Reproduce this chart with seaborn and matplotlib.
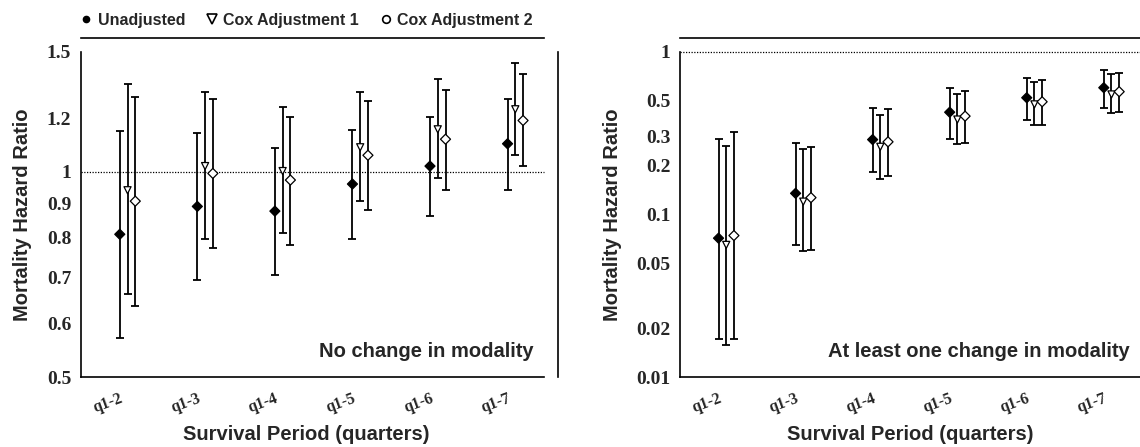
import pandas as pd
import numpy as np
import matplotlib
matplotlib.use("Agg")
import matplotlib.pyplot as plt
import seaborn as sns
from matplotlib.lines import Line2D
from matplotlib.ticker import FixedLocator, NullLocator

### Data ----------------------------------------------------------------------
periods = ["q1-2", "q1-3", "q1-4", "q1-5", "q1-6", "q1-7"]
series_names = ["Unadjusted", "Cox Adjustment 1", "Cox Adjustment 2"]

# Panel 1: no change in modality
nc_unadj_hr = [0.81, 0.89, 0.876, 0.96, 1.02, 1.10]
nc_unadj_lo = [0.57, 0.694, 0.706, 0.797, 0.862, 0.942]
nc_unadj_hi = [1.148, 1.142, 1.083, 1.152, 1.204, 1.278]
nc_cox1_hr = [0.94, 1.02, 1.003, 1.087, 1.155, 1.236]
nc_cox1_lo = [0.663, 0.798, 0.813, 0.905, 0.980, 1.060]
nc_cox1_hi = [1.345, 1.311, 1.245, 1.311, 1.370, 1.444]
nc_cox2_hr = [0.906, 0.995, 0.973, 1.058, 1.117, 1.19]
nc_cox2_lo = [0.636, 0.774, 0.780, 0.878, 0.942, 1.019]
nc_cox2_hi = [1.29, 1.278, 1.203, 1.272, 1.318, 1.391]

# Panel 2: at least one change in modality
ch_unadj_hr = [0.0715, 0.135, 0.289, 0.426, 0.523, 0.603]
ch_unadj_lo = [0.0171, 0.0648, 0.182, 0.292, 0.379, 0.454]
ch_unadj_hi = [0.292, 0.276, 0.454, 0.597, 0.691, 0.771]
ch_cox1_hr = [0.065, 0.120, 0.261, 0.384, 0.476, 0.548]
ch_cox1_lo = [0.0158, 0.0597, 0.165, 0.270, 0.356, 0.423]
ch_cox1_hi = [0.265, 0.253, 0.412, 0.553, 0.657, 0.736]
ch_cox2_hr = [0.0742, 0.127, 0.280, 0.403, 0.494, 0.570]
ch_cox2_lo = [0.0171, 0.0603, 0.172, 0.276, 0.356, 0.430]
ch_cox2_hi = [0.321, 0.261, 0.443, 0.574, 0.669, 0.742]

nc_ticks = [0.5, 0.6, 0.7, 0.8, 0.9, 1, 1.2, 1.5]
nc_ticklabels = ["0.5", "0.6", "0.7", "0.8", "0.9", "1", "1.2", "1.5"]
ch_ticks = [0.01, 0.02, 0.05, 0.1, 0.2, 0.3, 0.5, 0.7, 1]
ch_ticklabels = ["0.01", "0.02", "0.05", "0.1", "0.2", "0.3", "0.5", "", "1"]

### Build long table -----------------------------------------------------------
def make_panel(panel, hr_lists, lo_lists, hi_lists):
    rows = []
    for s, hr, lo, hi in zip(series_names, hr_lists, lo_lists, hi_lists):
        for i, p in enumerate(periods):
            rows.append([panel, s, p, i, hr[i], lo[i], hi[i]])
    return pd.DataFrame(rows, columns=["panel", "series", "period", "idx", "hr", "lo", "hi"])

df = pd.concat([
    make_panel("nc", [nc_unadj_hr, nc_cox1_hr, nc_cox2_hr],
               [nc_unadj_lo, nc_cox1_lo, nc_cox2_lo], [nc_unadj_hi, nc_cox1_hi, nc_cox2_hi]),
    make_panel("ch", [ch_unadj_hr, ch_cox1_hr, ch_cox2_hr],
               [ch_unadj_lo, ch_cox1_lo, ch_cox2_lo], [ch_unadj_hi, ch_cox1_hi, ch_cox2_hi]),
], ignore_index=True)

# dodge the three estimates within each period
offsets = {"Unadjusted": 0.0, "Cox Adjustment 1": 0.1, "Cox Adjustment 2": 0.2}
df["x"] = df["idx"] + df["series"].map(offsets)

### Plot -----------------------------------------------------------------------
sns.set_style("white")
plt.rcParams["font.family"] = ["Liberation Sans", "DejaVu Sans"]

fig = plt.figure(figsize=(11.4, 4.47), dpi=100)
ax1 = fig.add_axes([81 / 1140, 70 / 447, 463 / 1140, 325 / 447])
ax2 = fig.add_axes([680 / 1140, 70 / 447, 460 / 1140, 325 / 447])

palette = {"Unadjusted": "black", "Cox Adjustment 1": "white", "Cox Adjustment 2": "white"}
markers = {"Unadjusted": "D", "Cox Adjustment 1": "v", "Cox Adjustment 2": "D"}

panels = [
    (ax1, "nc", nc_ticks, nc_ticklabels, (0.5, 1.5), "No change in modality"),
    (ax2, "ch", ch_ticks, ch_ticklabels, (0.01, 1), "At least one change in modality"),
]

for ax, key, ticks, ticklabels, ylim, title in panels:
    d = df[df["panel"] == key]
    ax.errorbar(d["x"], d["hr"], yerr=[d["hr"] - d["lo"], d["hi"] - d["hr"]],
                fmt="none", ecolor="black", elinewidth=1.3, capsize=3.2,
                capthick=1.3, zorder=2)
    sns.scatterplot(data=d, x="x", y="hr", hue="series", style="series",
                    palette=palette, markers=markers, s=26, edgecolor="black",
                    linewidth=0.9, legend=False, zorder=3, ax=ax)
    ax.axhline(1, color="black", ls=(0, (1, 1.2)), lw=0.9, zorder=1, clip_on=False)

    ax.tick_params(axis="both", direction="out", length=4, width=1.1, color="black")
    ax.tick_params(axis="x", pad=6)
    ax.tick_params(axis="y", pad=3)

    ax.set_yscale("log")
    ax.set_ylim(*ylim)
    ax.yaxis.set_major_locator(FixedLocator(ticks))
    ax.yaxis.set_minor_locator(NullLocator())
    ax.set_yticklabels(ticklabels)

    ax.set_xlim(-0.5, 5.47)
    ax.set_xticks(range(len(periods)))
    ax.set_xticklabels(periods)

    for sp in ax.spines.values():
        sp.set_color("black")
        sp.set_linewidth(1.2)
    ax.spines["top"].set_position(("outward", 10))

    ax.set_ylabel("Mortality Hazard Ratio", fontsize=14.5, fontweight="bold")
    ax.set_xlabel("Survival Period (quarters)", fontsize=14.5, fontweight="bold")
    ax.text(0.977, 0.077, title, transform=ax.transAxes, ha="right", va="center",
            fontsize=14.5, fontweight="bold")

ax1.spines["right"].set_position(("outward", 10))
ax2.spines["right"].set_visible(False)

ax1.yaxis.set_label_coords(-0.106, 0.5)
ax2.yaxis.set_label_coords(-0.126, 0.5)
ax1.xaxis.set_label_coords(0.487, -0.148)
ax2.xaxis.set_label_coords(0.5, -0.148)

# legend at the top left
handles = [
    Line2D([], [], ls="none", marker="o", markersize=4.5, markerfacecolor="black", markeredgecolor="black"),
    Line2D([], [], ls="none", marker="v", markersize=6.5, markerfacecolor="white", markeredgecolor="black", markeredgewidth=1.2),
    Line2D([], [], ls="none", marker="o", markersize=5.5, markerfacecolor="white", markeredgecolor="black", markeredgewidth=1.2),
]
fig.legend(handles, series_names, loc="center left", bbox_to_anchor=(80 / 1140, 1 - 20 / 447),
           ncol=3, frameon=False, handlelength=0.8, handletextpad=0.3, columnspacing=1.3,
           borderpad=0, borderaxespad=0, prop={"weight": "bold", "size": 11.5})

# draw once so all tick objects exist, then switch tick labels to serif
fig.canvas.draw()
for ax in (ax1, ax2):
    for tick in ax.yaxis.get_major_ticks():
        tick.label1.set(family="Liberation Serif", fontweight="bold", fontsize=14)
    for tick in ax.xaxis.get_major_ticks():
        tick.label1.set(family="Liberation Serif", fontweight="bold", fontsize=11.5,
                        rotation=20, ha="right", va="top", rotation_mode="anchor")

fig.savefig("out.png", dpi=100)
